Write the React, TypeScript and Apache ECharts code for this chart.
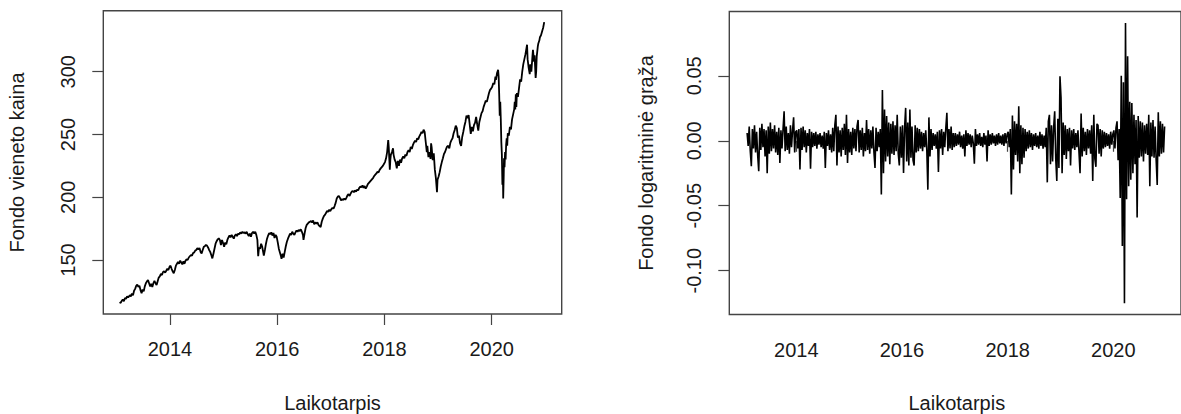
import React, { useEffect, useRef } from "react";
import * as echarts from "echarts";

// ---------- data ----------
const X_TICKS = [2014, 2016, 2018, 2020];
const PRICE_TICKS = [150, 200, 250, 300];
const RET_TICKS = [-0.1, -0.05, 0, 0.05];

// fund unit price: [decimal year, price]
const PRICE_2013: [number, number][] = [
  [2013.06, 116.5], [2013.08, 115.8], [2013.1, 117.5], [2013.12, 118.6], [2013.14, 117.2], [2013.16, 119.8],
  [2013.18, 119.0], [2013.2, 121.0], [2013.22, 120.2], [2013.25, 122.0], [2013.27, 121.0], [2013.29, 123.3],
  [2013.31, 122.0], [2013.33, 125.5], [2013.35, 127.0], [2013.37, 129.5], [2013.39, 130.5], [2013.41, 128.5],
  [2013.43, 129.5], [2013.45, 126.0], [2013.47, 123.5], [2013.49, 126.5], [2013.51, 125.0], [2013.53, 129.0],
  [2013.55, 131.5], [2013.57, 133.0], [2013.59, 134.0], [2013.61, 131.5], [2013.63, 129.0], [2013.65, 131.0],
  [2013.67, 128.5], [2013.69, 131.5], [2013.71, 133.5], [2013.73, 131.5], [2013.75, 130.0], [2013.77, 133.0],
  [2013.79, 136.0], [2013.81, 137.0], [2013.83, 139.0], [2013.85, 138.0], [2013.87, 140.5], [2013.89, 141.0],
  [2013.91, 140.0], [2013.93, 141.5], [2013.95, 143.0], [2013.97, 142.0], [2013.99, 144.5],
];
const PRICE_2014: [number, number][] = [
  [2014.01, 145.5], [2014.03, 143.0], [2014.05, 141.0], [2014.07, 139.5], [2014.09, 142.0], [2014.11, 145.5],
  [2014.13, 147.0], [2014.15, 148.5], [2014.17, 147.0], [2014.19, 149.5], [2014.21, 148.0], [2014.23, 146.5],
  [2014.25, 149.0], [2014.27, 147.0], [2014.29, 149.5], [2014.31, 150.5], [2014.33, 150.0], [2014.35, 152.0],
  [2014.37, 153.0], [2014.39, 154.0], [2014.41, 153.5], [2014.43, 155.5], [2014.45, 156.0], [2014.47, 157.5],
  [2014.49, 158.0], [2014.51, 159.5], [2014.53, 158.5], [2014.55, 159.5], [2014.57, 156.5], [2014.59, 155.3],
  [2014.61, 158.0], [2014.63, 160.5], [2014.65, 161.0], [2014.67, 162.0], [2014.69, 161.5], [2014.71, 160.0],
  [2014.73, 158.0], [2014.75, 156.5], [2014.77, 154.0], [2014.79, 151.3], [2014.81, 155.0], [2014.83, 159.0],
  [2014.85, 163.0], [2014.87, 165.0], [2014.89, 166.5], [2014.91, 167.3], [2014.93, 166.0], [2014.95, 162.0],
  [2014.97, 166.0], [2014.99, 163.5],
];
const PRICE_2015: [number, number][] = [
  [2015.01, 160.6], [2015.03, 164.0], [2015.05, 162.5], [2015.07, 166.0], [2015.09, 168.0], [2015.11, 169.5],
  [2015.13, 168.0], [2015.15, 170.0], [2015.17, 168.5], [2015.19, 167.0], [2015.21, 169.5], [2015.23, 170.5],
  [2015.25, 169.0], [2015.27, 171.0], [2015.29, 170.5], [2015.31, 172.0], [2015.33, 171.0], [2015.35, 172.5],
  [2015.37, 171.5], [2015.39, 172.0], [2015.41, 171.0], [2015.43, 172.5], [2015.45, 170.5], [2015.47, 169.0],
  [2015.49, 171.0], [2015.51, 168.5], [2015.53, 171.5], [2015.55, 172.5], [2015.57, 171.0], [2015.59, 172.5],
  [2015.61, 170.0], [2015.63, 166.0], [2015.645, 153.0], [2015.66, 160.0], [2015.68, 159.0], [2015.7, 163.0],
  [2015.72, 160.5], [2015.74, 156.0], [2015.75, 153.5], [2015.77, 158.0], [2015.79, 163.0], [2015.81, 167.0],
  [2015.83, 169.5], [2015.85, 171.5], [2015.87, 170.5], [2015.89, 172.0], [2015.91, 169.5], [2015.93, 171.5],
  [2015.95, 167.5], [2015.97, 170.0], [2015.99, 168.5],
];
const PRICE_2016: [number, number][] = [
  [2016.01, 164.0], [2016.03, 159.0], [2016.05, 156.0], [2016.07, 153.0], [2016.08, 151.0], [2016.1, 155.0],
  [2016.12, 152.0], [2016.14, 156.5], [2016.16, 161.0], [2016.18, 164.5], [2016.2, 167.0], [2016.22, 169.0],
  [2016.24, 171.0], [2016.26, 170.0], [2016.28, 172.5], [2016.3, 171.0], [2016.32, 170.0], [2016.34, 172.0],
  [2016.36, 173.5], [2016.38, 172.5], [2016.4, 174.0], [2016.42, 173.0], [2016.44, 174.5], [2016.46, 172.5],
  [2016.48, 170.0], [2016.49, 166.0], [2016.51, 171.0], [2016.53, 175.5], [2016.55, 178.0], [2016.57, 179.0],
  [2016.59, 180.0], [2016.61, 180.5], [2016.63, 181.0], [2016.65, 180.0], [2016.67, 181.5], [2016.69, 178.5],
  [2016.71, 180.0], [2016.73, 179.0], [2016.75, 180.0], [2016.77, 178.0], [2016.79, 177.0], [2016.81, 176.3],
  [2016.83, 180.5], [2016.85, 183.0], [2016.87, 185.0], [2016.89, 186.0], [2016.91, 187.5], [2016.93, 189.0],
  [2016.95, 188.5], [2016.97, 190.0], [2016.99, 189.0],
];
const PRICE_2017: [number, number][] = [
  [2017.01, 190.5], [2017.03, 191.5], [2017.05, 191.0], [2017.07, 193.0], [2017.09, 195.5], [2017.11, 199.0],
  [2017.13, 200.5], [2017.15, 201.0], [2017.17, 199.5], [2017.19, 197.5], [2017.21, 198.5], [2017.23, 197.8],
  [2017.25, 199.0], [2017.27, 198.0], [2017.29, 199.5], [2017.31, 201.5], [2017.33, 202.5], [2017.35, 201.0],
  [2017.37, 203.0], [2017.39, 204.5], [2017.41, 205.0], [2017.43, 204.0], [2017.45, 205.5], [2017.47, 204.5],
  [2017.49, 206.0], [2017.51, 205.5], [2017.53, 207.5], [2017.55, 208.5], [2017.57, 208.0], [2017.59, 209.5],
  [2017.61, 207.5], [2017.63, 209.0], [2017.65, 206.8], [2017.67, 208.5], [2017.69, 210.5], [2017.71, 211.5],
  [2017.73, 212.5], [2017.75, 213.5], [2017.77, 214.5], [2017.79, 215.5], [2017.81, 217.0], [2017.83, 218.0],
  [2017.85, 219.0], [2017.87, 220.3], [2017.89, 219.8], [2017.91, 221.8], [2017.93, 223.0], [2017.95, 224.0],
  [2017.97, 225.0], [2017.99, 226.5],
];
const PRICE_2018: [number, number][] = [
  [2018.01, 228.0], [2018.03, 231.0], [2018.05, 236.0], [2018.07, 245.5], [2018.08, 240.0], [2018.09, 231.0],
  [2018.1, 222.0], [2018.11, 230.0], [2018.12, 234.0], [2018.14, 236.0], [2018.16, 239.0], [2018.17, 234.0],
  [2018.19, 230.0], [2018.21, 228.0], [2018.23, 223.0], [2018.25, 229.0], [2018.27, 225.0], [2018.29, 230.0],
  [2018.31, 227.5], [2018.33, 231.0], [2018.35, 232.5], [2018.37, 231.0], [2018.39, 234.0], [2018.41, 233.0],
  [2018.43, 236.0], [2018.45, 237.5], [2018.47, 236.0], [2018.49, 240.0], [2018.51, 238.5], [2018.53, 241.5],
  [2018.55, 243.5], [2018.57, 245.0], [2018.59, 244.0], [2018.61, 247.0], [2018.63, 246.0], [2018.65, 248.5],
  [2018.67, 250.0], [2018.69, 252.0], [2018.71, 251.0], [2018.73, 253.8], [2018.75, 252.0], [2018.77, 244.0],
  [2018.79, 236.0], [2018.8, 241.0], [2018.82, 232.0], [2018.84, 236.0], [2018.86, 230.5], [2018.87, 243.0],
  [2018.88, 240.0], [2018.9, 229.5], [2018.92, 235.0], [2018.94, 222.0], [2018.96, 215.0], [2018.98, 204.0],
  [2018.99, 214.0],
];
const PRICE_2019: [number, number][] = [
  [2019.01, 216.5], [2019.03, 220.0], [2019.05, 224.5], [2019.07, 228.0], [2019.09, 231.0], [2019.11, 234.5],
  [2019.13, 236.0], [2019.15, 238.5], [2019.17, 240.5], [2019.19, 241.0], [2019.21, 239.0], [2019.23, 243.5],
  [2019.25, 245.5], [2019.27, 247.0], [2019.29, 251.0], [2019.31, 253.5], [2019.33, 257.0], [2019.35, 255.0],
  [2019.37, 247.5], [2019.39, 249.0], [2019.41, 243.0], [2019.43, 241.0], [2019.45, 248.0], [2019.47, 252.0],
  [2019.49, 256.5], [2019.51, 260.0], [2019.53, 265.0], [2019.55, 263.0], [2019.57, 265.5], [2019.59, 258.0],
  [2019.61, 250.5], [2019.63, 256.0], [2019.65, 252.5], [2019.67, 257.5], [2019.69, 259.5], [2019.71, 264.0],
  [2019.73, 258.0], [2019.75, 253.0], [2019.77, 260.0], [2019.79, 263.5], [2019.81, 267.0], [2019.83, 268.5],
  [2019.85, 272.0], [2019.87, 274.5], [2019.89, 277.0], [2019.91, 276.0], [2019.93, 279.5], [2019.95, 283.0],
  [2019.97, 285.5], [2019.99, 286.5],
];
const PRICE_2020: [number, number][] = [
  [2020.01, 288.0], [2020.03, 291.0], [2020.05, 290.0], [2020.07, 296.0], [2020.08, 293.5], [2020.1, 299.0],
  [2020.12, 301.5], [2020.13, 296.0], [2020.14, 282.0], [2020.15, 265.0], [2020.16, 276.0], [2020.17, 262.0],
  [2020.18, 244.0], [2020.19, 234.0], [2020.2, 210.0], [2020.21, 217.0], [2020.215, 199.0], [2020.225, 218.0],
  [2020.23, 231.0], [2020.24, 224.0], [2020.25, 236.0], [2020.26, 230.0], [2020.27, 242.0], [2020.28, 247.0],
  [2020.29, 241.0], [2020.3, 251.0], [2020.32, 249.0], [2020.34, 256.0], [2020.36, 254.0], [2020.38, 262.0],
  [2020.4, 266.0], [2020.42, 270.0], [2020.43, 276.0], [2020.44, 270.0], [2020.45, 282.0], [2020.46, 272.0],
  [2020.47, 283.0], [2020.49, 280.0], [2020.51, 287.0], [2020.53, 294.0], [2020.55, 292.0], [2020.57, 300.0],
  [2020.59, 306.0], [2020.61, 310.0], [2020.63, 314.0], [2020.65, 319.0], [2020.66, 321.5], [2020.67, 310.0],
  [2020.69, 303.0], [2020.71, 298.0], [2020.72, 306.0], [2020.74, 300.0], [2020.76, 312.0], [2020.77, 317.5],
  [2020.79, 308.0], [2020.8, 313.0], [2020.82, 295.0], [2020.83, 300.0], [2020.84, 312.0], [2020.86, 320.0],
  [2020.87, 322.5], [2020.89, 325.0], [2020.9, 327.5], [2020.92, 329.0], [2020.94, 332.0], [2020.96, 335.0],
  [2020.98, 339.5],
];

// log returns, sampled evenly through each year (first year starts at RET_START)
const RET_START = 2013.06;
const RET_STEP = 0.02;
const RET_2013 = [
  0.006, -0.004, 0.011, -0.008, -0.0196, 0.009, -0.006, 0.012, -0.009, 0.007, -0.011, -0.0235, 0.01, -0.007, 0.013,
  -0.005, 0.009, -0.012, 0.008, -0.025, 0.011, -0.01, 0.014, -0.008, 0.009, -0.006, 0.012, -0.009, 0.007, -0.011,
  0.01, -0.017, 0.008, -0.006, 0.009, 0.0227, -0.008, 0.011, -0.007, 0.006, -0.01, 0.012, -0.005, 0.008, 0.018,
  -0.009, 0.007,
];
const RET_2014 = [
  0.008, -0.006, 0.009, -0.022, 0.01, -0.007, 0.011, -0.005, 0.008, -0.009, 0.006, -0.004, 0.009, -0.0216, 0.007,
  -0.005, 0.006, -0.004, 0.007, -0.006, 0.005, -0.003, 0.006, -0.005, 0.004, -0.006, 0.007, -0.021, 0.006, -0.004,
  0.008, -0.007, 0.005, -0.009, 0.01, -0.008, 0.012, 0.02, -0.019, 0.011, -0.009, 0.008, -0.012, 0.01, -0.007,
  0.013, -0.011, 0.02, -0.017, 0.009,
];
const RET_2015 = [
  -0.009, 0.007, -0.011, 0.01, -0.006, 0.009, -0.008, 0.011, 0.016, -0.009, 0.008, -0.007, 0.01, -0.012, 0.006,
  -0.008, 0.016, -0.007, 0.009, -0.01, 0.008, -0.006, 0.011, -0.009, -0.021, 0.01, -0.008, 0.007, -0.005, 0.009,
  -0.0414, 0.039, -0.025, 0.024, -0.016, 0.019, -0.012, 0.014, -0.018, 0.013, -0.01, 0.015, -0.011, 0.012, -0.008,
  0.02, -0.01, -0.019, 0.011, -0.013,
];
const RET_2016 = [
  0.012, -0.0247, 0.01, 0.0253, -0.016, 0.014, -0.019, 0.024, -0.013, 0.011, -0.015, -0.019, 0.012, -0.009, 0.01,
  -0.008, 0.009, -0.006, 0.007, -0.008, 0.006, -0.005, 0.008, -0.007, -0.0376, 0.018, -0.012, 0.009, -0.007, 0.006,
  -0.004, 0.005, -0.006, 0.007, -0.024, 0.008, -0.006, 0.009, -0.011, 0.007, -0.005, 0.01, 0.0215, -0.008, 0.009,
  -0.006, 0.011, -0.007, 0.006, -0.005,
];
const RET_2017 = [
  0.006, -0.004, 0.005, -0.003, 0.007, -0.005, 0.004, -0.006, 0.005, -0.012, 0.008, -0.004, 0.006, -0.003, 0.005,
  -0.005, 0.004, -0.002, -0.0176, 0.009, -0.004, 0.005, -0.003, 0.006, -0.004, 0.003, -0.005, 0.006, -0.003, 0.004,
  -0.016, 0.008, -0.004, 0.005, -0.003, 0.006, -0.002, 0.004, -0.004, 0.005, -0.003, 0.006, -0.002, 0.004, -0.003,
  0.005, -0.004, 0.006, -0.002, 0.005,
];
const RET_2018 = [
  0.007, -0.005, 0.009, -0.0414, 0.0195, -0.022, 0.015, -0.011, 0.013, -0.016, 0.0266, -0.025, 0.012, -0.018, 0.01,
  -0.013, 0.009, -0.008, 0.007, -0.006, 0.008, -0.005, 0.006, -0.007, 0.005, -0.004, 0.006, -0.005, 0.004, -0.006,
  0.007, -0.004, 0.005, -0.006, 0.004, -0.005, 0.01, -0.032, 0.015, 0.02, -0.018, 0.012, -0.016, 0.01, 0.0227,
  -0.014, -0.031, 0.017, -0.021, 0.0497,
];
const RET_2019 = [
  0.033, -0.025, 0.014, -0.011, 0.012, -0.014, 0.009, -0.008, 0.01, -0.019, 0.008, -0.006, 0.009, -0.007, 0.006,
  -0.005, 0.008, -0.009, -0.025, 0.021, -0.012, 0.01, -0.008, 0.007, -0.011, 0.009, -0.006, 0.008, -0.01, 0.012,
  -0.031, 0.02, -0.014, -0.02, 0.013, 0.012, -0.01, 0.009, -0.012, 0.008, -0.006, 0.007, -0.005, 0.006, -0.004,
  0.005, -0.006, 0.007, -0.003, 0.005,
];
const RET_2020 = [
  0.008, -0.006, 0.01, 0.015, -0.015, 0.009, -0.044, 0.05, -0.081, 0.045, -0.125, 0.0906, -0.045, 0.065, -0.035,
  0.03, -0.03, 0.029, -0.025, 0.02, -0.018, 0.016, -0.059, 0.019, -0.013, 0.015, -0.012, 0.014, -0.016, 0.012,
  -0.01, 0.013, -0.011, 0.02, -0.035, 0.014, -0.012, 0.016, -0.013, 0.011, -0.015, -0.034, 0.022, -0.012, 0.015,
  -0.01, 0.013, -0.009, 0.011,
];

// ---------- layout / style ----------
const FONT = "'Liberation Sans', Arial, Helvetica, sans-serif";
const FS = 20;
const TEXT = "#1a1a1a";
const FRAME = "#444";

const PRICE_X_RANGE = [2012.756, 2021.306];
const PRICE_Y_RANGE = [107.0, 348.6];
const RET_X_RANGE = [2012.733, 2021.28];
const RET_Y_RANGE = [-0.1337, 0.0995];

function buildPrice(): [number, number][] {
  return [
    ...PRICE_2013, ...PRICE_2014, ...PRICE_2015, ...PRICE_2016,
    ...PRICE_2017, ...PRICE_2018, ...PRICE_2019, ...PRICE_2020,
  ];
}

function buildReturns(): [number, number][] {
  const years: [number, number[]][] = [
    [RET_START, RET_2013], [2014, RET_2014], [2015, RET_2015], [2016, RET_2016],
    [2017, RET_2017], [2018, RET_2018], [2019, RET_2019], [2020, RET_2020],
  ];
  const out: [number, number][] = [];
  for (const [start, vals] of years) {
    vals.forEach((v, j) => out.push([start + (j + 0.5) * RET_STEP, v]));
  }
  return out;
}

function xAxisCfg(gridIndex: number, range: number[]) {
  return {
    type: "value",
    gridIndex,
    min: range[0],
    max: range[1],
    axisLine: { show: false },
    splitLine: { show: false },
    axisTick: { show: true, length: 11, customValues: X_TICKS, lineStyle: { color: FRAME, width: 1.2 } },
    axisLabel: {
      customValues: X_TICKS,
      margin: 25,
      fontSize: FS,
      color: TEXT,
      fontFamily: FONT,
      formatter: (v: number) => String(Math.round(v)),
    },
  };
}

function yAxisCfg(gridIndex: number, range: number[], ticks: number[], fmt: (v: number) => string) {
  return {
    type: "value",
    gridIndex,
    min: range[0],
    max: range[1],
    axisLine: { show: false },
    splitLine: { show: false },
    axisTick: { show: true, length: 11, customValues: ticks, lineStyle: { color: FRAME, width: 1.2 } },
    axisLabel: {
      customValues: ticks,
      rotate: 90,
      margin: 25,
      fontSize: FS,
      color: TEXT,
      fontFamily: FONT,
      formatter: fmt,
    },
  };
}

export default function App() {
  const ref = useRef<HTMLDivElement>(null);

  useEffect(() => {
    if (!ref.current) return;
    const chart = echarts.init(ref.current, undefined, { renderer: "svg" });
    const textStyle = { fontSize: FS, fill: TEXT, fontFamily: FONT, align: "center", verticalAlign: "middle" };
    chart.setOption({
      animation: false,
      backgroundColor: "#fff",
      grid: [
        { left: 103.3, top: 10.7, width: 458.4, height: 303.3, show: true, borderColor: FRAME, borderWidth: 1.4, backgroundColor: "transparent" },
        { left: 729.3, top: 11.5, width: 455, height: 303, show: true, borderColor: FRAME, borderWidth: 1.4, backgroundColor: "transparent" },
      ],
      xAxis: [xAxisCfg(0, PRICE_X_RANGE), xAxisCfg(1, RET_X_RANGE)],
      yAxis: [
        yAxisCfg(0, PRICE_Y_RANGE, PRICE_TICKS, (v: number) => String(Math.round(v))),
        yAxisCfg(1, RET_Y_RANGE, RET_TICKS, (v: number) => v.toFixed(2)),
      ],
      series: [
        {
          type: "line",
          xAxisIndex: 0,
          yAxisIndex: 0,
          data: buildPrice(),
          symbol: "none",
          silent: true,
          lineStyle: { color: "#000", width: 1.8 },
        },
        {
          type: "line",
          xAxisIndex: 1,
          yAxisIndex: 1,
          data: buildReturns(),
          symbol: "none",
          silent: true,
          lineStyle: { color: "#000", width: 1.6 },
        },
      ],
      graphic: [
        { type: "text", x: 17, y: 162.5, rotation: Math.PI / 2, style: { ...textStyle, text: "Fondo vieneto kaina" } },
        { type: "text", x: 646, y: 163, rotation: Math.PI / 2, style: { ...textStyle, text: "Fondo logaritminė grąža" } },
        { type: "text", x: 332.5, y: 403, style: { ...textStyle, text: "Laikotarpis" } },
        { type: "text", x: 956.8, y: 403, style: { ...textStyle, text: "Laikotarpis" } },
      ],
    });
    return () => chart.dispose();
  }, []);

  return (
    <div
      ref={ref}
      style={{ position: "absolute", left: 0, top: 0, width: 1181, height: 414, background: "#fff" }}
    />
  );
}
